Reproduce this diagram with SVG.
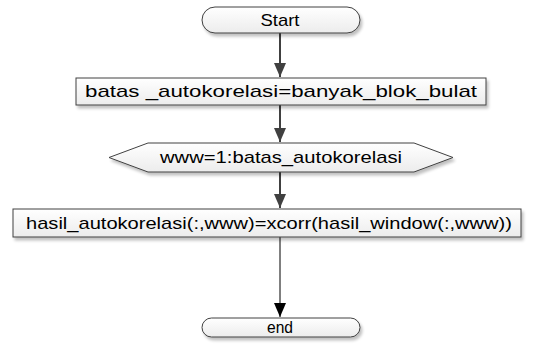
<svg xmlns="http://www.w3.org/2000/svg" width="551" height="345" viewBox="0 0 551 345">
<defs>
<linearGradient id="g" x1="0" y1="0" x2="0" y2="1">
<stop offset="0" stop-color="#ffffff"/>
<stop offset="1" stop-color="#ececec"/>
</linearGradient>
<filter id="sh" x="-10%" y="-30%" width="120%" height="180%">
<feGaussianBlur in="SourceAlpha" stdDeviation="1.5"/>
<feOffset dx="2" dy="3" result="b"/>
<feComponentTransfer><feFuncA type="linear" slope="0.25"/></feComponentTransfer>
<feMerge><feMergeNode/><feMergeNode in="SourceGraphic"/></feMerge>
</filter>
<marker id="ah" markerWidth="14" markerHeight="12" viewBox="0 0 14 12" refX="14" refY="6" orient="auto" markerUnits="userSpaceOnUse">
<path d="M0,0 L14,6 L0,12 Z" fill="#404040"/>
</marker>
<marker id="ahb" markerWidth="14" markerHeight="12" viewBox="0 0 14 12" refX="14" refY="6" orient="auto" markerUnits="userSpaceOnUse">
<path d="M0,0 L14,6 L0,12 Z" fill="#000"/>
</marker>
</defs>
<style>
.s{fill:url(#g);stroke:#404040;stroke-width:1;filter:url(#sh)}
.t{font-family:"Liberation Sans",Arial,sans-serif;font-size:17px;fill:#000;text-anchor:middle;dominant-baseline:central}
.c{stroke:#404040;stroke-width:2;fill:none}
</style>
<g id="connectors">
<line class="c" x1="280" y1="33" x2="280" y2="77" marker-end="url(#ah)"/>
<line class="c" x1="280" y1="105" x2="280" y2="142" marker-end="url(#ah)"/>
<line class="c" x1="280" y1="172" x2="280" y2="208" marker-end="url(#ah)"/>
<line x1="280" y1="237" x2="280" y2="317" stroke="#000" stroke-width="1" marker-end="url(#ahb)"/>
</g>
<g id="start">
<rect class="s" x="202" y="7" width="158" height="26" rx="13" ry="13"/>
<text class="t" x="280" y="20" font-size="18" textLength="39" lengthAdjust="spacingAndGlyphs">Start</text>
</g>
<g id="assign">
<rect class="s" x="76" y="78" width="410" height="27"/>
<text class="t" x="281" y="91.5" textLength="392" lengthAdjust="spacingAndGlyphs">batas _autokorelasi=banyak_blok_bulat</text>
</g>
<g id="loop">
<polygon class="s" points="109,157.5 148,143 414,143 453,157.5 414,172 148,172"/>
<text class="t" x="281" y="157.5" textLength="242" lengthAdjust="spacingAndGlyphs">www=1:batas_autokorelasi</text>
</g>
<g id="compute">
<rect class="s" x="13" y="209" width="508" height="28"/>
<text class="t" x="269" y="223" textLength="486" lengthAdjust="spacingAndGlyphs">hasil_autokorelasi(:,www)=xcorr(hasil_window(:,www))</text>
</g>
<g id="end">
<rect class="s" x="202" y="318" width="158" height="19" rx="9.5" ry="9.5"/>
<text class="t" x="280" y="327.5" font-size="18" textLength="26" lengthAdjust="spacingAndGlyphs">end</text>
</g>
</svg>
